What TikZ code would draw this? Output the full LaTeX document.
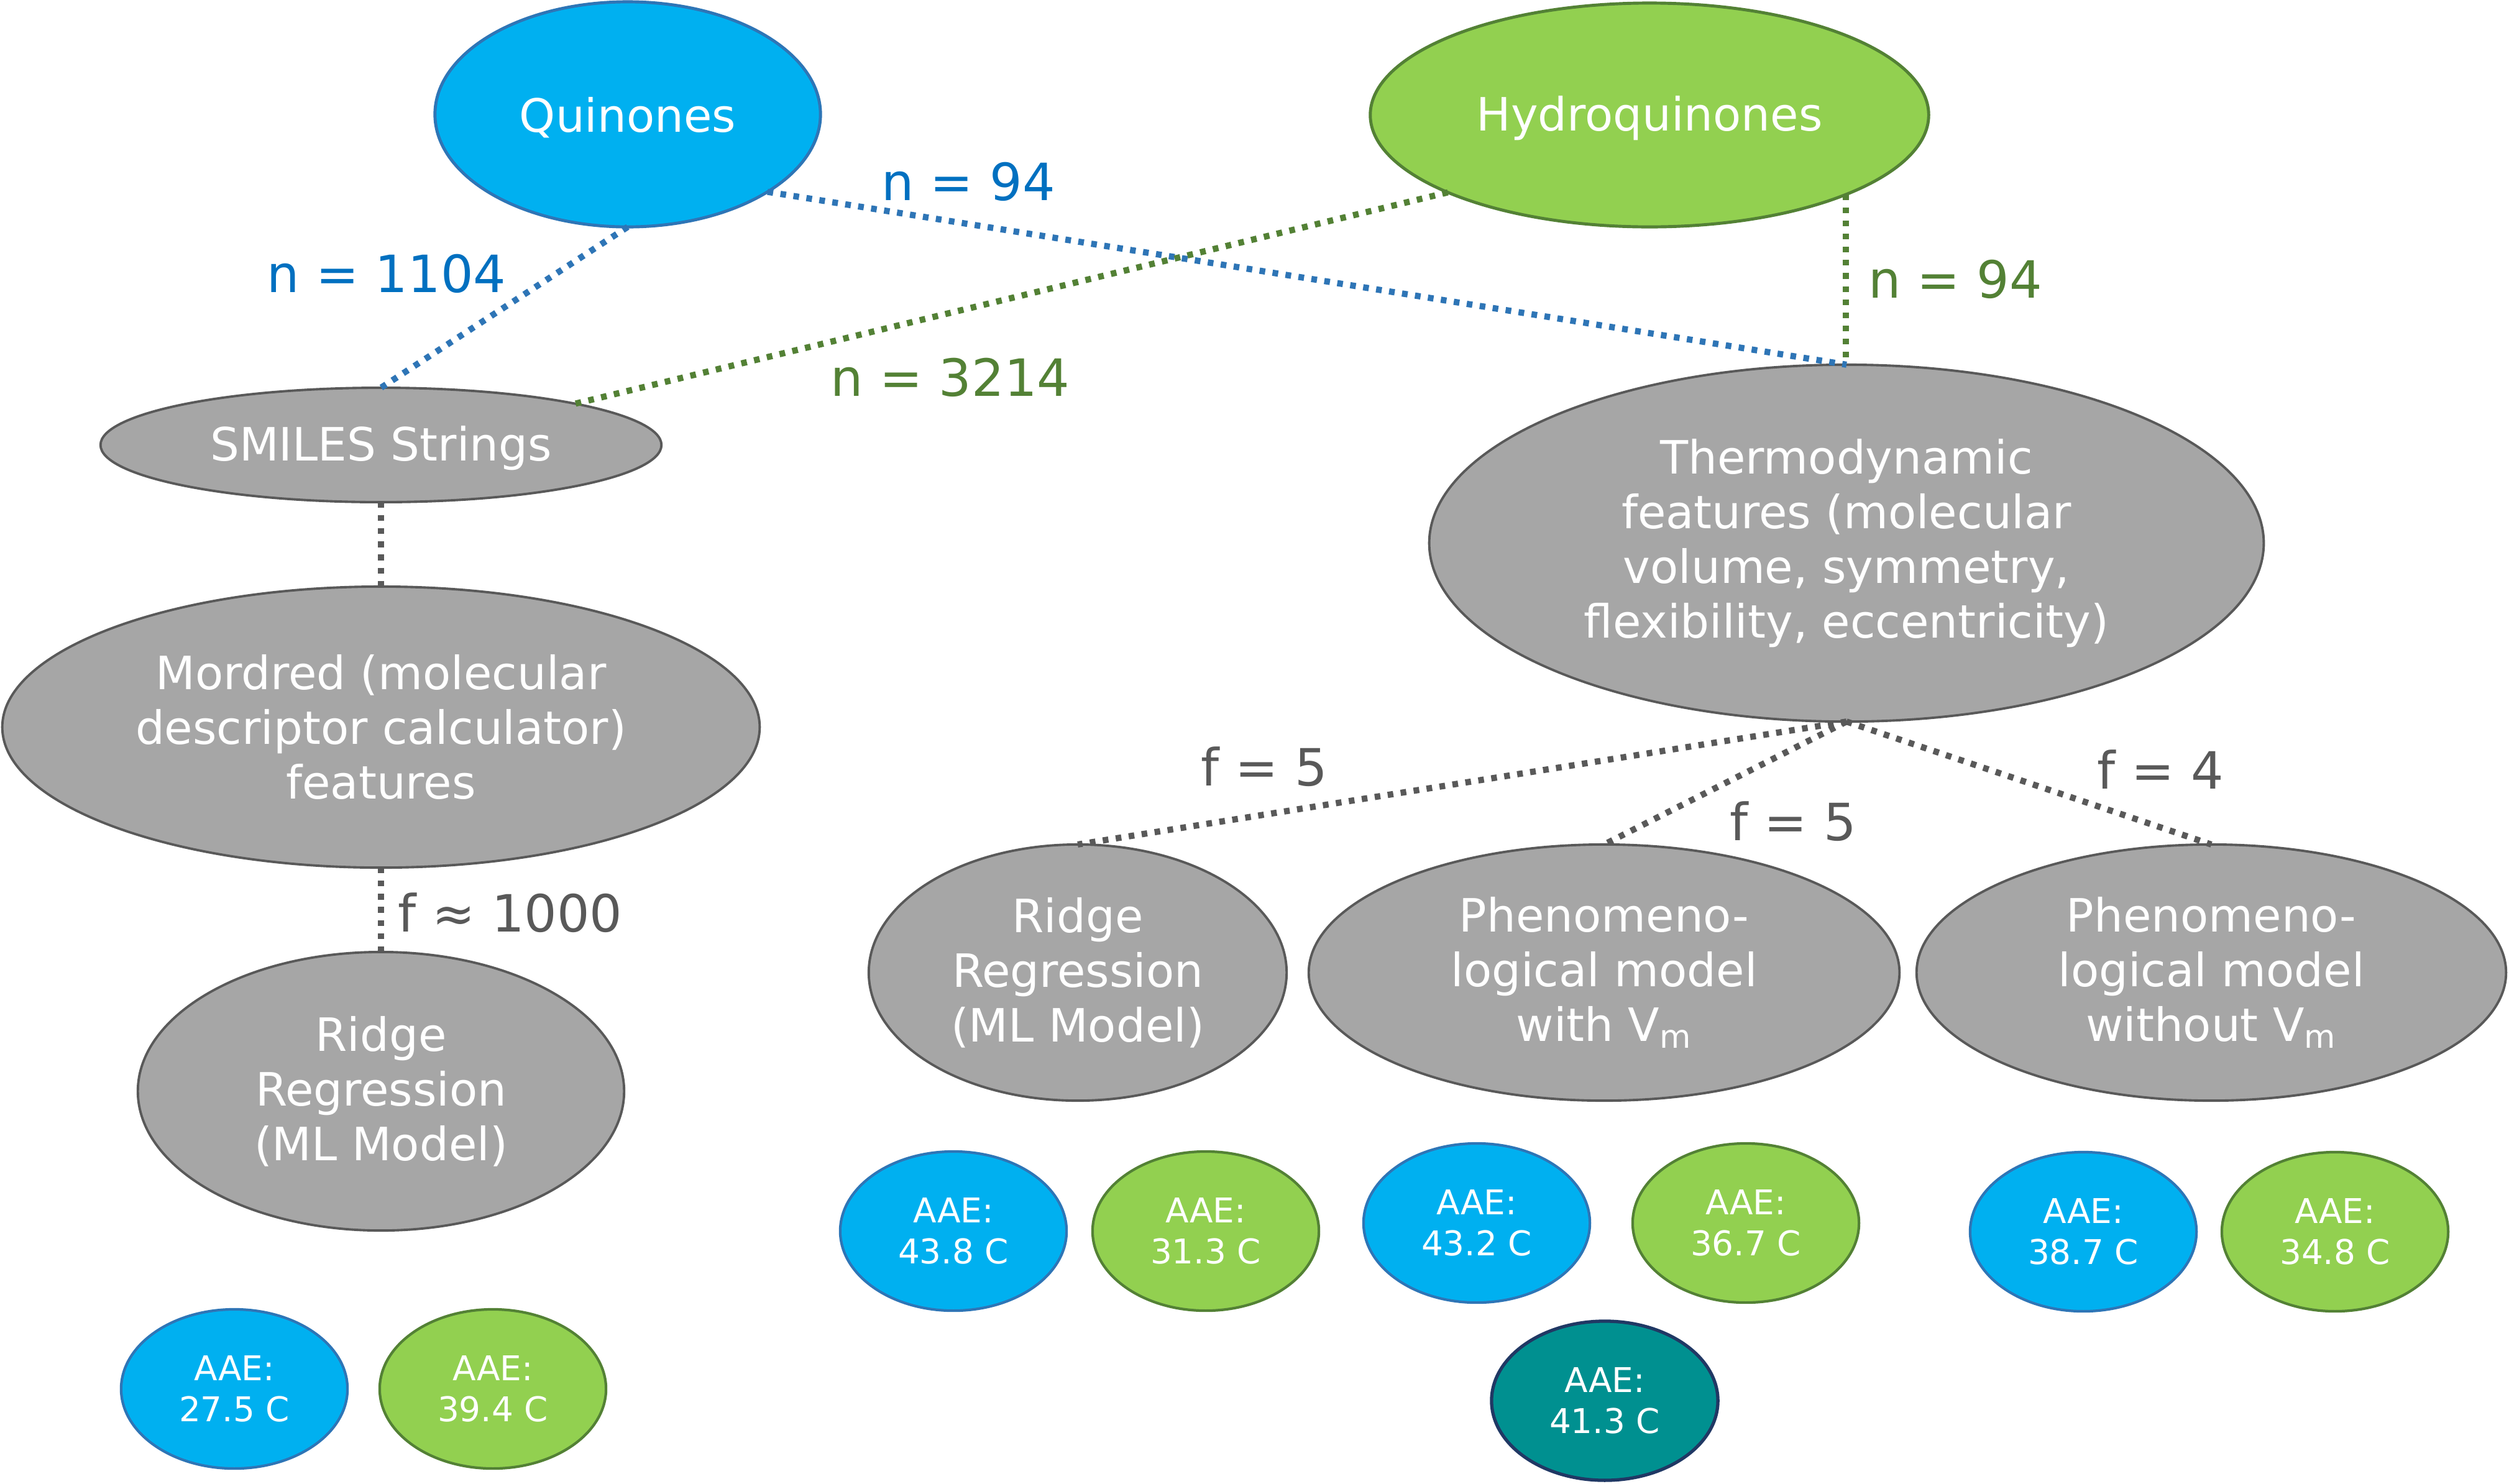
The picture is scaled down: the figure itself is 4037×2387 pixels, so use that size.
\documentclass[tikz,border=0pt]{standalone}
\usepackage{fontspec}
\setmainfont{DejaVu Sans}
\usetikzlibrary{shapes.geometric}
\definecolor{qfill}{HTML}{00B0F0}
\definecolor{qdraw}{HTML}{2E75B6}
\definecolor{hfill}{HTML}{92D050}
\definecolor{hdraw}{HTML}{538135}
\definecolor{gfill}{HTML}{A6A6A6}
\definecolor{gdraw}{HTML}{595959}
\definecolor{tfill}{HTML}{009090}
\definecolor{tdraw}{HTML}{203864}
\definecolor{lblue}{HTML}{0070C0}
\newcommand{\lowtext}[1]{\raisebox{-0.05cm}[\height][\depth]{#1}}
\tikzset{
  basenode/.style={ellipse, inner sep=0pt, outer sep=0pt, align=center, text=white},
  bigtext/.style={font=\fontsize{21}{25}\selectfont},
  qnode/.style={basenode, bigtext, fill=qfill, draw=qdraw, line width=1.4pt},
  hnode/.style={basenode, bigtext, fill=hfill, draw=hdraw, line width=1.4pt},
  gnode/.style={basenode, bigtext, fill=gfill, draw=gdraw, line width=1.1pt},
  aae/.style={basenode, font=\fontsize{15.6}{18.8}\selectfont, minimum width=3.64cm, minimum height=2.56cm, line width=1.2pt},
  aaeq/.style={aae, fill=qfill, draw=qdraw},
  aaeh/.style={aae, fill=hfill, draw=hdraw},
  aaet/.style={aae, fill=tfill, draw=tdraw, line width=1.5pt},
  link/.style={line width=2.85pt, dash pattern=on 2.6pt off 3.4pt},
  bluelink/.style={link, draw=qdraw},
  greenlink/.style={link, draw=hdraw},
  graylink/.style={link, draw=gdraw},
  lbl/.style={font=\fontsize{23.5}{28}\selectfont, anchor=base, inner sep=0pt}
}
\begin{document}
\begin{tikzpicture}[x=0.01cm,y=-0.01cm]
\useasboundingbox (0,0) rectangle (4037,2387);
\fill[white] (0,0) rectangle (4037,2387);

% top nodes
\node[qnode, minimum width=6.2cm, minimum height=3.62cm] (Q) at (1010,184) {\lowtext{Quinones}};
\node[hnode, minimum width=8.98cm, minimum height=3.6cm] (H) at (2654,185) {\lowtext{Hydroquinones}};

% left column
\node[gnode, minimum width=9.02cm, minimum height=1.84cm] (S) at (613,716) {\lowtext{SMILES Strings}};
\node[gnode, minimum width=12.18cm, minimum height=4.52cm] (M) at (613,1170) {Mordred (molecular\\descriptor calculator)\\features};
\node[gnode, minimum width=7.82cm, minimum height=4.48cm] (RL) at (613,1756) {Ridge\\Regression\\(ML Model)};

% right part
\node[gnode, minimum width=13.42cm, minimum height=5.74cm] (T) at (2971,874) {Thermodynamic\\features (molecular\\volume, symmetry,\\flexibility, eccentricity)};
\node[gnode, minimum width=6.72cm, minimum height=4.12cm] (RM) at (1734,1565) {Ridge\\Regression\\(ML Model)};
\node[gnode, minimum width=9.5cm, minimum height=4.12cm] (P1) at (2581,1565) {Phenomeno-\\logical model\\with V\textsubscript{m}};
\node[gnode, minimum width=9.48cm, minimum height=4.12cm] (P2) at (3558,1565) {Phenomeno-\\logical model\\without V\textsubscript{m}};

% AAE results
\node[aaeq] (a1) at (377,2235) {AAE:\\27.5 C};
\node[aaeh] (a2) at (793,2235) {AAE:\\39.4 C};
\node[aaeq] (a3) at (1534,1981) {AAE:\\43.8 C};
\node[aaeh] (a4) at (1940,1981) {AAE:\\31.3 C};
\node[aaeq] (a5) at (2376,1968) {AAE:\\43.2 C};
\node[aaeh] (a6) at (2809,1968) {AAE:\\36.7 C};
\node[aaet] (a7) at (2582,2254) {AAE:\\41.3 C};
\node[aaeq] (a8) at (3352,1982) {AAE:\\38.7 C};
\node[aaeh] (a9) at (3757,1982) {AAE:\\34.8 C};

% connectors
\draw[bluelink] (Q.south) -- (S.north);
\draw[bluelink] (Q.-29) -- (T.north);
\draw[greenlink] (H.201) -- (S.12);
\draw[greenlink] (H.-22) -- (H.-22 |- T.north);
\draw[graylink] (S.south) -- (M.north);
\draw[graylink] (M.south) -- (RL.north);
\draw[graylink] (T.south) -- (RM.north);
\draw[graylink] (T.south) -- (P1.north);
\draw[graylink] (T.south) -- (P2.north);

% labels
\node[lbl, text=lblue] (ln1) at (622,470) {n = 1104};
\node[lbl, text=lblue] (ln2) at (1558,322) {n = 94};
\node[lbl, text=hdraw] (ln3) at (1529,637) {n = 3214};
\node[lbl, text=hdraw] (ln4) at (3146,479) {n = 94};
\node[lbl, text=gdraw] (lf1) at (821,1499) {f ≈ 1000};
\node[lbl, text=gdraw] (lf2) at (2034,1264) {f = 5};
\node[lbl, text=gdraw] (lf3) at (2885,1352) {f = 5};
\node[lbl, text=gdraw] (lf4) at (3476,1269) {f = 4};
\end{tikzpicture}
\end{document}
